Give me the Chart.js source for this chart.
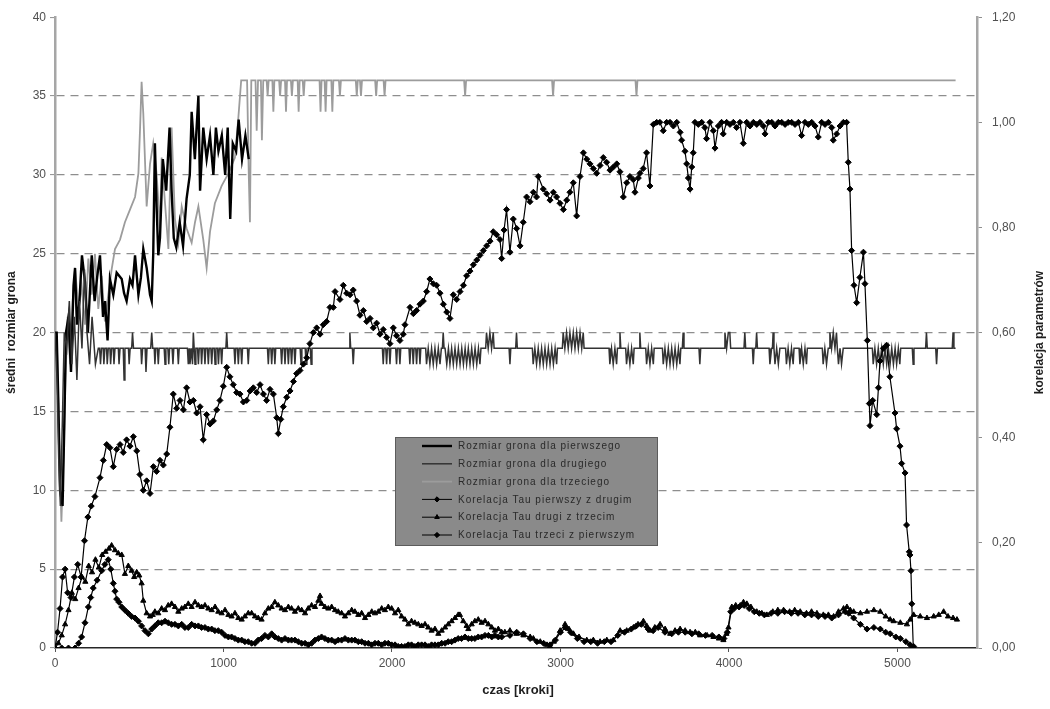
<!DOCTYPE html>
<html lang="pl">
<head>
<meta charset="utf-8">
<title>Rozmiar grona i korelacja parametrów</title>
<script src="https://cdn.jsdelivr.net/npm/chart.js@4.4.1/dist/chart.umd.min.js"></script>
<style>
  html, body { margin: 0; padding: 0; background: #ffffff; }
  #wrap { width: 1050px; height: 709px; }
</style>
</head>
<body>
<div id="wrap"><canvas id="chart" width="1050" height="709"></canvas></div>
<script>
// Axis and series labels
const xTitle = 'czas [kroki]';
const yTitle = 'średni  rozmiar grona';
const y2Title = 'korelacja parametrów';
const seriesNames = [
  'Rozmiar grona dla pierwszego',
  'Rozmiar grona dla drugiego',
  'Rozmiar grona dla trzeciego',
  'Korelacja Tau pierwszy z drugim',
  'Korelacja Tau drugi z trzecim',
  'Korelacja Tau trzeci z pierwszym'
];
const xTicks = [0, 1000, 2000, 3000, 4000, 5000];
const yTicks = [0, 5, 10, 15, 20, 25, 30, 35, 40];
const y2Ticks = [0, 0.2, 0.4, 0.6, 0.8, 1.0, 1.2];

// Cluster sizes: [step, size]
const sizeFirst = [[0,20],[10,20],[20,15.5],[30,10],[45,9],[55,14],[65,20],[80,21],[95,17.5],[110,23],[119,24.1],[130,20.5],[145,22],[160,24.9],[178,23.2],[195,20],[218,24.9],[235,22],[250,23.5],[267,24.9],[285,21],[297,22],[312,19.5],[326,23.4],[346,22.4],[366,23.8],[396,23.4],[410,22.5],[425,22],[445,23.4],[460,23],[475,24.9],[495,22.4],[510,23.5],[524,25.3],[544,24.1],[564,22.4],[574,22],[583,25],[593,32],[603,28],[613,24.9],[623,26],[640,31],[660,29],[680,33],[692,29],[705,26],[720,25.4],[740,27],[760,25.5],[781,28.5],[800,30],[811,34],[830,31],[851,35],[861,29],[880,33],[900,31],[920,32.5],[940,30],[955,33],[970,31.5],[990,32.5],[1010,30],[1025,33],[1040,27.2],[1055,32],[1075,31.5],[1090,33.5],[1110,31],[1130,32.5],[1150,31]];

const sizeSecond = [[0,20],[12,17],[22,12],[32,9],[45,15],[55,20],[70,19],[85,22],[100,18],[115,21],[130,17],[145,22],[160,19],[175,24],[190,20],[205,18],[220,21],[240,18],[257,19],
[265,19],[270,18],[276,19],[286,19],[290,18],[296,19],[306,19],[310,18],[316,19],[326,19],[330,18],[336,19],[346,19],[350,18],[356,19],[376,19],[380,18],[386,19],[405,19],[410,17],[415,19],[436,19],[440,18],[446,19],[455,19],[460,20],[466,19],
[510,19],[514,18],[520,19],[535,19],[540,17.5],[546,19],[568,19],[574,20],[580,19],[589,19],[593,18],[598,19],[608,19],[613,18],[618,19],[648,19],[653,18],[658,19],[670,19],[675,18],[680,19],[695,19],[700,18],[705,19],[727,19],[732,18],[737,19],[786,19],[791,18],[796,19],[801,18],[811,19],[816,18],[821,20],[826,19],[831,18],[836,19],[846,19],[851,18],[856,19],[866,19],[870,18],[875,19],[885,19],[890,18],[895,19],[905,19],[910,18],[915,19],[925,19],[930,18],[935,19],[945,19],[950,18],[955,19],[965,19],[970,18],[975,19],[984,19],[989,18],[994,19],[1014,19],[1019,20],[1024,19],[1063,19],[1068,18],[1073,19],[1083,19],[1088,18],[1093,19],[1103,19],[1108,18],[1113,19],[1142,19],[1147,18],[1152,19],
[1261,19],[1266,18],[1271,19],[1281,19],[1286,18],[1291,19],[1300,19],[1305,18],[1310,19],[1340,19],[1345,18],[1350,19],[1360,19],[1365,18],[1370,19],[1380,19],[1385,18],[1390,19],[1399,19],[1404,18],[1409,19],[1419,19],[1424,18],[1429,19],[1455,19],[1460,18],[1465,19],[1485,19],[1490,18],[1495,19],[1515,19],[1520,18],[1525,19],
[1745,19],[1750,20],[1755,19],[1765,19],[1770,18],[1775,19],
[1943,19],[1948,18],[1953,19],[1963,19],[1968,18],[1973,19],[1983,19],[1988,18],[1993,19],[2022,19],[2027,18],[2032,19],[2042,19],[2047,18],[2052,19],[2101,19],[2106,18],[2111,19],[2121,19],[2126,18],[2131,19],[2141,19],[2146,18],[2151,19],[2161,19],[2166,18],[2171,19],[2200,19],[2205,18],[2215,19],[2225,18],[2235,19],[2245,18],[2255,19],[2265,18],[2275,19],[2285,18],[2293,19],[2299,19],[2304,20],[2309,19],[2315,19],[2325,18],[2335,19],[2344,18],[2354,19],[2364,18],[2374,19],[2384,18],[2394,19],[2404,18],[2414,19],[2424,18],[2434,19],[2443,18],[2453,19],[2463,18],[2473,19],[2483,18],[2493,19],[2503,18],[2513,19],[2522,18],[2528,19],
[2556,19],[2561,20],[2571,19],[2581,20],[2591,19],[2601,20],[2606,19],[2695,19],[2700,18],[2705,19],[2734,19],[2739,20],[2744,19],
[2833,19],[2838,18],[2848,19],[2858,18],[2868,19],[2878,18],[2888,19],[2898,18],[2908,19],[2918,18],[2928,19],[2938,18],[2948,19],[2958,18],[2968,19],[2977,18],[2982,19],
[3011,19],[3016,20],[3026,19],[3036,20],[3046,19],[3056,20],[3066,19],[3076,20],[3086,19],[3096,20],[3106,19],[3116,20],[3126,19],[3135,20],[3140,19],
[3288,19],[3293,18],[3303,19],[3313,18],[3323,19],[3333,18],[3338,19],[3348,19],[3353,20],[3358,19],[3387,19],[3392,18],[3402,19],[3412,18],[3422,19],[3432,18],[3437,19],[3466,19],[3471,20],[3476,19],[3506,19],[3511,18],[3521,19],[3531,18],[3541,19],[3551,18],[3556,19],
[3605,19],[3610,18],[3620,19],[3630,18],[3640,19],[3650,18],[3660,19],[3670,18],[3680,19],[3690,18],[3700,19],[3709,18],[3714,19],[3723,19],[3728,20],[3733,19],[3822,19],[3827,18],[3832,19],
[3971,19],[3976,20],[3986,19],[3996,20],[4005,20],[4010,19],[4089,19],[4094,20],[4099,19],[4139,19],[4144,18],[4149,19],[4159,19],[4164,20],[4169,19],[4238,19],[4243,18],[4253,19],[4258,19],[4262,20],[4267,19],[4273,18],[4283,19],[4293,18],[4302,19],
[4336,19],[4341,18],[4351,19],[4361,18],[4371,19],[4381,18],[4386,19],[4416,19],[4421,18],[4431,19],[4441,18],[4451,19],[4460,18],[4465,19],
[4554,19],[4559,18],[4569,19],[4579,18],[4589,19],[4594,19],[4599,20],[4609,19],[4619,20],[4629,19],[4638,20],[4643,19],[4650,18],[4659,19],[4668,18],[4678,19],
[4851,19],[4856,18],[4866,19],[4876,18],[4886,19],[4896,18],[4906,19],[4916,18],[4926,19],[4936,18],[4946,19],[4956,18],[4966,19],[4976,18],[4986,19],[4995,18],[5005,19],[5014,18],[5019,19],[5088,19],[5093,18],[5098,19],[5167,19],[5172,20],[5177,19],[5227,19],[5232,18],[5237,19],[5325,19],[5330,20],[5335,19],[5345,19]];

const sizeThird = [[0,20],[12,19],[25,13],[38,8],[50,12],[62,17],[75,21],[90,18],[105,22],[119,24.1],[140,21.4],[158,23],[178,20.5],[198,24.7],[218,22.4],[237,25],[257,21.5],[277,23.6],[296,20.7],[316,22.4],[336,24],[356,25.3],[386,25.9],[415,27],[445,27.8],[475,28.6],[495,30.1],[505,33],[514,35.9],[524,33.9],[544,28],[564,30.7],[583,32],[603,30.1],[623,26.6],[633,31.1],[653,28.2],[673,25.3],[692,33],[712,27.2],[732,25.7],[752,28],[781,26.6],[811,25.7],[831,27],[851,28],[880,25.9],[900,24.1],[920,26.4],[949,28.2],[989,29.3],[1029,30.1],[1068,31.1],[1088,33.6],[1105,36],[1140,36],[1150,30],[1157,27],[1165,36],[1190,36],[1197,32.8],[1205,36],[1222,36],[1228,32.2],[1236,36],
[1256,36],[1262,35],[1268,36],[1290,36],[1296,34],[1302,36],[1330,36],[1336,35],[1342,36],[1365,36],[1371,34],[1377,36],[1400,36],[1406,35],[1412,36],[1440,36],[1446,34],[1452,36],[1470,36],[1476,35],[1482,36],[1570,36],[1576,34],[1582,36],[1600,36],[1606,34],[1612,36],[1640,36],[1646,34],[1652,36],[1685,36],[1691,35],[1697,36],[1785,36],[1791,35],[1797,36],[1810,36],[1816,35],[1822,36],[1900,36],[1906,35],[1912,36],[1950,36],[1956,35],[1962,36],[2428,36],[2434,35],[2440,36],[2950,36],[2956,35],[2962,36],[3445,36],[3451,35],[3457,36],[5345,36]];

// Kendall tau correlations: [step, tau]
const tauFirstSecond = [[0,0],[15,0.03],[30,0.075],[45,0.135],[60,0.15],[75,0.105],[95,0.096],[115,0.135],[135,0.159],[155,0.135],[175,0.204],[195,0.249],[215,0.27],[237,0.288],[267,0.324],[287,0.357],[307,0.387],[326,0.381],[346,0.345],[366,0.378],[386,0.387],[405,0.372],[425,0.396],[445,0.384],[465,0.402],[485,0.375],[504,0.33],[524,0.30],[544,0.318],[564,0.294],[584,0.345],[603,0.336],[623,0.357],[643,0.348],[663,0.369],[682,0.42],[702,0.483],[722,0.456],[742,0.471],[762,0.453],[781,0.495],[801,0.468],[821,0.471],[841,0.447],[861,0.459],[880,0.396],[900,0.444],[920,0.426],[940,0.432],[960,0.453],[979,0.471],[999,0.498],[1019,0.534],[1038,0.516],[1058,0.501],[1078,0.486],[1098,0.483],[1118,0.468],[1138,0.471],[1158,0.489],[1177,0.495],[1197,0.486],[1217,0.501],[1237,0.483],[1256,0.471],[1276,0.492],[1296,0.483],[1316,0.438],[1325,0.408],[1340,0.435],[1355,0.459],[1375,0.477],[1395,0.489],[1415,0.507],[1434,0.522],[1454,0.528],[1474,0.54],[1494,0.552],[1513,0.579],[1533,0.60],[1553,0.609],[1573,0.597],[1592,0.615],[1612,0.621],[1632,0.648],[1652,0.648],[1662,0.678],[1691,0.663],[1711,0.69],[1731,0.675],[1751,0.672],[1770,0.681],[1790,0.66],[1810,0.633],[1830,0.642],[1850,0.621],[1870,0.627],[1889,0.609],[1909,0.618],[1929,0.597],[1948,0.606],[1968,0.591],[1988,0.579],[2008,0.609],[2027,0.594],[2047,0.585],[2067,0.597],[2077,0.615],[2107,0.648],[2127,0.636],[2146,0.642],[2166,0.654],[2186,0.66],[2206,0.678],[2225,0.702],[2245,0.693],[2265,0.69],[2285,0.675],[2305,0.654],[2325,0.639],[2344,0.627],[2364,0.672],[2384,0.663],[2404,0.678],[2424,0.69],[2443,0.708],[2463,0.717],[2483,0.729],[2503,0.738],[2522,0.747],[2542,0.756],[2562,0.765],[2582,0.774],[2601,0.792],[2621,0.786],[2641,0.777],[2651,0.741],[2665,0.795],[2680,0.834],[2700,0.753],[2720,0.816],[2740,0.798],[2760,0.765],[2779,0.81],[2799,0.858],[2819,0.849],[2839,0.867],[2858,0.858],[2868,0.897],[2898,0.873],[2918,0.864],[2938,0.852],[2958,0.867],[2977,0.858],[2997,0.846],[3017,0.834],[3037,0.852],[3056,0.867],[3076,0.885],[3096,0.822],[3116,0.897],[3136,0.942],[3156,0.93],[3175,0.921],[3195,0.912],[3215,0.903],[3235,0.918],[3254,0.933],[3274,0.924],[3294,0.909],[3314,0.915],[3334,0.921],[3353,0.906],[3373,0.858],[3393,0.885],[3412,0.897],[3432,0.891],[3442,0.867],[3462,0.894],[3472,0.903],[3491,0.912],[3511,0.942],[3531,0.879],[3551,0.996],[3571,1.0],[3590,1.0],[3610,0.984],[3630,1.0],[3650,1.0],[3670,0.993],[3690,1.0],[3710,0.981],[3719,0.966],[3739,0.945],[3749,0.921],[3759,0.894],[3769,0.873],[3779,0.915],[3788,0.942],[3798,1.0],[3818,0.996],[3838,1.0],[3857,0.99],[3867,0.969],[3887,1.0],[3907,0.984],[3917,0.951],[3937,0.993],[3956,1.0],[3966,0.978],[3986,1.0],[4006,0.996],[4026,1.0],[4045,0.99],[4065,1.0],[4085,0.96],[4105,1.0],[4125,0.993],[4145,1.0],[4165,0.996],[4184,1.0],[4204,0.993],[4214,0.978],[4234,1.0],[4254,1.0],[4273,0.993],[4293,1.0],[4313,1.0],[4333,0.996],[4352,1.0],[4372,1.0],[4392,0.996],[4412,1.0],[4431,0.975],[4451,1.0],[4471,0.996],[4491,1.0],[4511,0.993],[4530,0.972],[4550,1.0],[4570,0.996],[4590,1.0],[4610,0.99],[4619,0.966],[4639,0.978],[4659,0.993],[4679,1.0],[4698,1.0],[4708,0.924],[4718,0.873],[4728,0.756],[4742,0.69],[4758,0.657],[4777,0.705],[4798,0.753],[4807,0.693],[4821,0.585],[4833,0.465],[4837,0.423],[4853,0.471],[4877,0.444],[4887,0.495],[4896,0.546],[4916,0.57],[4936,0.576],[4955,0.516],[4985,0.447],[4995,0.417],[5015,0.384],[5025,0.351],[5045,0.333],[5054,0.234],[5070,0.183],[5074,0.177],[5080,0.147],[5085,0.084],[5094,0]];

const tauSecondThird = [[0,0],[20,0.009],[40,0.024],[60,0.045],[80,0.072],[100,0.105],[120,0.093],[140,0.114],[160,0.135],[180,0.126],[200,0.156],[220,0.144],[240,0.168],[260,0.153],[280,0.177],[300,0.183],[320,0.189],[336,0.195],[356,0.186],[376,0.18],[396,0.177],[415,0.141],[435,0.156],[455,0.147],[470,0.135],[485,0.144],[500,0.138],[514,0.123],[524,0.09],[544,0.066],[564,0.06],[580,0.063],[593,0.069],[613,0.066],[633,0.075],[653,0.072],[672,0.081],[692,0.084],[712,0.078],[732,0.069],[752,0.075],[771,0.078],[791,0.084],[811,0.078],[831,0.087],[851,0.081],[870,0.078],[890,0.081],[910,0.075],[930,0.072],[950,0.078],[969,0.069],[989,0.066],[1009,0.072],[1029,0.063],[1048,0.06],[1068,0.066],[1088,0.057],[1108,0.054],[1127,0.06],[1147,0.066],[1167,0.066],[1187,0.06],[1206,0.057],[1226,0.054],[1246,0.066],[1266,0.075],[1286,0.078],[1305,0.087],[1325,0.081],[1345,0.075],[1365,0.072],[1385,0.078],[1404,0.075],[1424,0.069],[1444,0.075],[1464,0.072],[1484,0.066],[1503,0.075],[1523,0.081],[1543,0.078],[1563,0.09],[1573,0.099],[1582,0.084],[1602,0.078],[1622,0.075],[1642,0.078],[1662,0.072],[1681,0.069],[1701,0.066],[1721,0.06],[1741,0.066],[1761,0.072],[1780,0.069],[1800,0.063],[1820,0.066],[1840,0.057],[1860,0.063],[1880,0.069],[1899,0.066],[1919,0.069],[1939,0.075],[1958,0.072],[1978,0.078],[1998,0.075],[2018,0.066],[2037,0.072],[2057,0.06],[2077,0.054],[2097,0.045],[2116,0.051],[2136,0.048],[2156,0.045],[2176,0.042],[2196,0.045],[2215,0.039],[2235,0.033],[2255,0.036],[2275,0.027],[2295,0.033],[2315,0.039],[2334,0.045],[2354,0.051],[2374,0.057],[2393,0.063],[2403,0.063],[2423,0.051],[2443,0.042],[2453,0.036],[2473,0.045],[2492,0.051],[2512,0.054],[2532,0.048],[2552,0.051],[2572,0.045],[2592,0.039],[2611,0.033],[2631,0.036],[2651,0.03],[2670,0.03],[2700,0.033],[2740,0.027],[2780,0.024],[2820,0.021],[2839,0.018],[2880,0.012],[2920,0.006],[2938,0.003],[2960,0.012],[2998,0.033],[3027,0.045],[3050,0.036],[3077,0.027],[3110,0.021],[3156,0.015],[3195,0.015],[3235,0.012],[3275,0.015],[3314,0.015],[3354,0.033],[3393,0.033],[3433,0.039],[3460,0.045],[3492,0.051],[3512,0.042],[3532,0.033],[3560,0.039],[3591,0.045],[3621,0.036],[3651,0.027],[3680,0.033],[3710,0.036],[3740,0.033],[3769,0.03],[3800,0.03],[3829,0.024],[3870,0.024],[3908,0.021],[3940,0.018],[3967,0.015],[3985,0.027],[3997,0.039],[4017,0.078],[4040,0.081],[4067,0.081],[4086,0.087],[4106,0.084],[4130,0.078],[4165,0.069],[4195,0.066],[4225,0.063],[4260,0.069],[4290,0.072],[4324,0.072],[4360,0.069],[4390,0.072],[4423,0.069],[4460,0.066],[4490,0.069],[4522,0.066],[4560,0.063],[4590,0.063],[4621,0.06],[4650,0.069],[4680,0.075],[4700,0.078],[4720,0.072],[4740,0.069],[4780,0.066],[4819,0.069],[4860,0.072],[4898,0.069],[4930,0.06],[4957,0.054],[4977,0.051],[5017,0.048],[5056,0.045],[5076,0.054],[5096,0.063],[5135,0.06],[5175,0.057],[5215,0.06],[5245,0.063],[5274,0.069],[5300,0.06],[5330,0.057],[5353,0.054]];

const tauThirdFirst = [[0,0],[40,0],[80,0],[119,0],[140,0.009],[158,0.021],[178,0.048],[198,0.078],[212,0.096],[227,0.114],[250,0.129],[277,0.147],[296,0.159],[316,0.168],[331,0.15],[346,0.123],[356,0.108],[366,0.093],[380,0.087],[396,0.078],[415,0.072],[435,0.066],[455,0.06],[475,0.057],[495,0.051],[514,0.042],[534,0.033],[554,0.027],[574,0.036],[593,0.042],[613,0.048],[633,0.048],[653,0.051],[672,0.048],[692,0.045],[712,0.045],[732,0.042],[752,0.045],[771,0.039],[791,0.039],[811,0.045],[831,0.042],[851,0.042],[870,0.039],[890,0.039],[910,0.036],[930,0.036],[949,0.033],[969,0.033],[989,0.03],[1009,0.024],[1029,0.021],[1048,0.021],[1068,0.018],[1088,0.015],[1108,0.015],[1127,0.012],[1147,0.012],[1167,0.009],[1187,0.009],[1206,0.015],[1226,0.018],[1246,0.024],[1266,0.021],[1286,0.027],[1305,0.021],[1325,0.018],[1345,0.015],[1365,0.018],[1385,0.015],[1404,0.015],[1424,0.015],[1444,0.012],[1464,0.009],[1484,0.009],[1503,0.006],[1523,0.009],[1543,0.015],[1563,0.018],[1582,0.021],[1602,0.018],[1622,0.015],[1642,0.015],[1662,0.012],[1681,0.015],[1701,0.015],[1721,0.018],[1741,0.015],[1761,0.015],[1780,0.015],[1800,0.012],[1820,0.012],[1840,0.009],[1860,0.009],[1879,0.006],[1899,0.009],[1919,0.009],[1939,0.006],[1958,0.009],[1978,0.009],[1998,0.006],[2018,0.006],[2037,0.003],[2057,0.003],[2077,0.003],[2097,0.006],[2116,0.006],[2136,0.003],[2156,0.006],[2176,0.006],[2196,0.006],[2215,0.003],[2235,0.006],[2255,0.006],[2275,0.006],[2295,0.009],[2315,0.009],[2334,0.012],[2354,0.012],[2374,0.015],[2393,0.018],[2413,0.018],[2433,0.021],[2453,0.018],[2473,0.018],[2492,0.018],[2512,0.021],[2532,0.021],[2552,0.024],[2572,0.024],[2592,0.021],[2611,0.024],[2631,0.021],[2651,0.021],[2700,0.024],[2740,0.03],[2780,0.027],[2820,0.018],[2860,0.012],[2900,0.009],[2938,0.006],[2970,0.015],[3000,0.03],[3030,0.039],[3060,0.03],[3100,0.018],[3140,0.012],[3180,0.012],[3220,0.009],[3260,0.012],[3300,0.012],[3340,0.024],[3380,0.03],[3420,0.036],[3450,0.042],[3480,0.045],[3520,0.036],[3550,0.033],[3580,0.039],[3620,0.03],[3660,0.027],[3700,0.03],[3740,0.03],[3780,0.027],[3820,0.027],[3860,0.024],[3900,0.024],[3940,0.021],[3970,0.018],[3990,0.03],[4010,0.069],[4030,0.075],[4060,0.078],[4090,0.081],[4120,0.075],[4150,0.069],[4180,0.066],[4210,0.063],[4250,0.066],[4290,0.066],[4330,0.069],[4370,0.066],[4410,0.066],[4450,0.063],[4490,0.063],[4530,0.06],[4570,0.06],[4610,0.057],[4650,0.063],[4690,0.069],[4710,0.066],[4740,0.057],[4780,0.045],[4819,0.036],[4860,0.039],[4898,0.036],[4930,0.03],[4957,0.027],[4990,0.021],[5017,0.018],[5050,0.012],[5075,0.006],[5096,0.003]];

const FONT = '"Liberation Sans", Arial, Helvetica, sans-serif';
const toPoints = pairs => pairs.map(p => ({ x: p[0], y: p[1] }));
const keepTicks = list => scale => {
  scale.ticks = list.map(v => ({ value: v }));
};

const sizeStyle = [
  { color: '#000000', width: 2.4 },
  { color: '#333333', width: 1.5 },
  { color: '#9c9c9c', width: 1.8 }
];
const tauStyle = ['rectRot', 'triangle', 'rectRot'];

const datasets = [
  { label: seriesNames[0], data: toPoints(sizeFirst), yAxisID: 'y', borderColor: sizeStyle[0].color, borderWidth: sizeStyle[0].width, pointRadius: 0, order: 3 },
  { label: seriesNames[1], data: toPoints(sizeSecond), yAxisID: 'y', borderColor: sizeStyle[1].color, borderWidth: sizeStyle[1].width, pointRadius: 0, order: 2 },
  { label: seriesNames[2], data: toPoints(sizeThird), yAxisID: 'y', borderColor: sizeStyle[2].color, borderWidth: sizeStyle[2].width, pointRadius: 0, order: 4 },
  { label: seriesNames[3], data: toPoints(tauFirstSecond), yAxisID: 'y2', borderColor: '#000', borderWidth: 1.2, pointStyle: tauStyle[0], pointRadius: 3, pointBackgroundColor: '#000', pointBorderColor: '#000', pointBorderWidth: 1, order: 1 },
  { label: seriesNames[4], data: toPoints(tauSecondThird), yAxisID: 'y2', borderColor: '#000', borderWidth: 1.2, pointStyle: tauStyle[1], pointRadius: 3, pointBackgroundColor: '#000', pointBorderColor: '#000', pointBorderWidth: 1, order: 1 },
  { label: seriesNames[5], data: toPoints(tauThirdFirst), yAxisID: 'y2', borderColor: '#000', borderWidth: 1.2, pointStyle: tauStyle[2], pointRadius: 3, pointBackgroundColor: '#000', pointBorderColor: '#000', pointBorderWidth: 1, order: 1 }
];

// Axis titles and the boxed legend inside the plot
const overlay = {
  id: 'overlay',
  afterDraw(chart) {
    const ctx = chart.ctx;
    const area = chart.chartArea;
    ctx.save();
    ctx.fillStyle = '#1e1e1e';
    ctx.textAlign = 'center';
    ctx.textBaseline = 'middle';
    ctx.font = 'bold 13px ' + FONT;
    ctx.fillText(xTitle, (area.left + area.right) / 2 + 2, 690);

    ctx.font = 'bold 12px ' + FONT;
    ctx.save();
    ctx.translate(12, (area.top + area.bottom) / 2);
    ctx.rotate(-Math.PI / 2);
    ctx.fillText(yTitle, 0, 0);
    ctx.restore();

    ctx.save();
    ctx.translate(1040, (area.top + area.bottom) / 2);
    ctx.rotate(-Math.PI / 2);
    ctx.fillText(y2Title, 0, 0);
    ctx.restore();

    // legend box
    const bx = 395, by = 437, bw = 263, bh = 109;
    ctx.fillStyle = '#8a8a8a';
    ctx.fillRect(bx, by, bw, bh);
    ctx.strokeStyle = '#5c5c5c';
    ctx.lineWidth = 1;
    ctx.strokeRect(bx + 0.5, by + 0.5, bw - 1, bh - 1);

    ctx.textAlign = 'left';
    ctx.font = '10px ' + FONT;
    if ('letterSpacing' in ctx) ctx.letterSpacing = '1px';
    seriesNames.forEach((name, i) => {
      const y = by + 9 + i * 17.8;
      const ds = chart.data.datasets[i];
      ctx.save();
      ctx.strokeStyle = ds.borderColor;
      ctx.lineWidth = i < 3 ? ds.borderWidth : 1;
      ctx.beginPath();
      ctx.moveTo(422, y);
      ctx.lineTo(452, y);
      ctx.stroke();
      if (i >= 3) {
        Chart.helpers.drawPoint(ctx, { pointStyle: ds.pointStyle, radius: 2.6, borderWidth: 1, rotation: 0 }, 437, y);
        ctx.fillStyle = '#000';
        ctx.fill();
      }
      ctx.restore();
      ctx.fillStyle = '#2a2a2a';
      ctx.fillText(name, 458, y + 0.5);
    });
    ctx.restore();
  }
};

new Chart(document.getElementById('chart'), {
  type: 'line',
  data: { datasets },
  options: {
    responsive: false,
    animation: false,
    devicePixelRatio: 1,
    layout: { padding: { top: 11, left: 0, right: 0, bottom: 0 } },
    elements: { line: { tension: 0, fill: false } },
    plugins: { legend: { display: false }, tooltip: { enabled: false } },
    scales: {
      x: {
        type: 'linear',
        min: 0,
        max: 5472,
        afterBuildTicks: keepTicks(xTicks),
        afterFit: s => { s.height = 61; },
        grid: { drawOnChartArea: false, drawTicks: true, tickLength: 4, tickColor: '#555', tickWidth: 1 },
        border: { display: true, color: '#262626', width: 1.5 },
        ticks: { color: '#505050', font: { family: FONT, size: 12 }, padding: 4, maxRotation: 0, callback: v => String(v) }
      },
      y: {
        type: 'linear',
        position: 'left',
        min: 0,
        max: 40,
        afterBuildTicks: keepTicks(yTicks),
        afterFit: s => { s.width = 55; },
        grid: {
          drawOnChartArea: true,
          color: c => (c.tick && (c.tick.value === 0 || c.tick.value === 40)) ? 'rgba(0,0,0,0)' : '#8e8e8e',
          lineWidth: 1.2,
          drawTicks: true,
          tickLength: 5,
          tickColor: '#8e8e8e',
          tickWidth: 1
        },
        border: { display: true, color: '#a6a6a6', width: 2.5, dash: [8, 6] },
        ticks: { color: '#505050', font: { family: FONT, size: 12 }, padding: 4, callback: v => String(v) }
      },
      y2: {
        type: 'linear',
        position: 'right',
        min: 0,
        max: 1.2,
        afterBuildTicks: keepTicks(y2Ticks),
        afterFit: s => { s.width = 73; },
        grid: { drawOnChartArea: false, drawTicks: true, tickLength: 5, tickColor: '#8e8e8e', tickWidth: 1 },
        border: { display: true, color: '#a6a6a6', width: 2.5 },
        ticks: { color: '#505050', font: { family: FONT, size: 12 }, padding: 10, callback: v => v.toFixed(2).replace('.', ',') }
      }
    }
  },
  plugins: [overlay]
});
</script>
</body>
</html>
